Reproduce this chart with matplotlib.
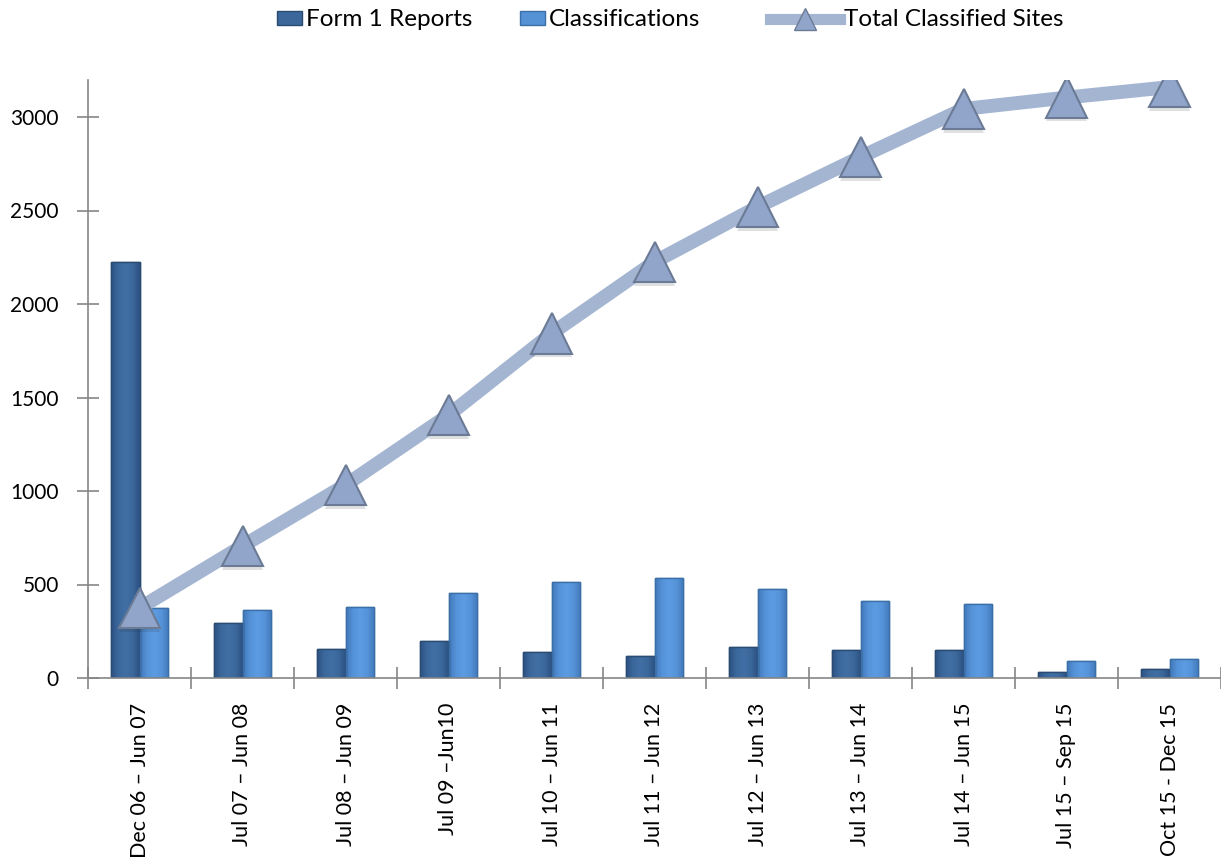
import matplotlib
matplotlib.use("Agg")
import matplotlib.pyplot as plt
import matplotlib.patheffects as pe
from matplotlib.colors import LinearSegmentedColormap
from matplotlib.lines import Line2D
from matplotlib.patches import Patch
import numpy as np

periods = ["Dec 06 – Jun 07", "Jul 07 – Jun 08", "Jul 08 – Jun 09", "Jul 09 –Jun10",
           "Jul 10 – Jun 11", "Jul 11 – Jun 12", "Jul 12 – Jun 13", "Jul 13 – Jun 14",
           "Jul 14 – Jun 15", "Jul 15 – Sep 15", "Oct 15 - Dec 15"]
form1_reports = [2225, 292, 153, 196, 139, 116, 167, 148, 148, 32, 48]
classifications = [374, 364, 378, 456, 513, 533, 476, 410, 396, 91, 102]
total_classified = [374, 706, 1032, 1406, 1842, 2225, 2519, 2786, 3043, 3104, 3160]

plt.rcParams["font.family"] = ["Lato", "DejaVu Sans"]

W, H = 1221, 864
fig = plt.figure(figsize=(W / 100, H / 100), dpi=100)
ax = fig.add_axes([88 / W, 1 - 678 / H, 1 - 88 / W, (678 - 79.6) / H])

x = np.arange(len(periods))
w = 0.28
FORM1_C, FORM1_E = "#3C679A", "#2A4B72"
CLASS_C, CLASS_E = "#5591D5", "#3B6FA8"


def shade_bars(bars, edge, mid, light):
    """Fill each bar with a soft horizontal gradient (darker at the sides)."""
    cmap = LinearSegmentedColormap.from_list("b", [edge, mid, light, mid, edge])
    grad = np.linspace(0, 1, 64)[np.newaxis, :]
    for b in bars:
        x0, y0 = b.get_xy()
        im = ax.imshow(grad, cmap=cmap, extent=[x0, x0 + b.get_width(), y0, y0 + b.get_height()],
                       aspect="auto", interpolation="bicubic", zorder=2.05)
        im.set_clip_path(b)


b1 = ax.bar(x - w / 2, form1_reports, width=w, color=FORM1_C, edgecolor=FORM1_E,
            linewidth=1.0, zorder=2)
b2 = ax.bar(x + w / 2, classifications, width=w, color=CLASS_C, edgecolor=CLASS_E,
            linewidth=1.0, zorder=2)
shade_bars(b1, "#2D5283", "#3C689C", "#416FA5")
shade_bars(b2, "#4279BA", "#5693D9", "#5C9BE2")
for b in list(b1) + list(b2):
    ax.add_patch(plt.Rectangle(b.get_xy(), b.get_width(), b.get_height(), fill=False,
                               edgecolor=b.get_edgecolor(), linewidth=1.0, zorder=2.1))

ax.plot(x, total_classified, color="#A4B5D2", linewidth=10, solid_capstyle="butt", zorder=3)
ax.plot(x, total_classified, linestyle="none", marker="^", markersize=29,
        markerfacecolor="#91A5CA", markeredgecolor="#6B7B96", markeredgewidth=1.5, zorder=4,
        path_effects=[pe.SimplePatchShadow(offset=(0, -2.5), alpha=0.15), pe.Normal()])

ax.set_xlim(-0.5, len(periods) - 0.5)
ax.set_ylim(0, 3200)
ax.set_yticks([0, 500, 1000, 1500, 2000, 2500, 3000])

ax.set_xticks(x)
ax.set_xticklabels(periods, rotation=90, fontsize=15.5, va="top")
ax.set_xticks(np.arange(-0.5, len(periods)), minor=True)
ax.tick_params(axis="x", which="major", length=0, pad=18)
ax.tick_params(axis="x", which="minor", length=16, direction="inout", color="#868686", width=1.2)
ax.tick_params(axis="y", length=16, direction="inout", color="#868686", width=1.2,
               labelsize=15, pad=13)

for side in ["top", "right"]:
    ax.spines[side].set_visible(False)
for side in ["left", "bottom"]:
    ax.spines[side].set_color("#868686")
    ax.spines[side].set_linewidth(1.2)

# legend entries laid out in equal-width slots along the top
FS = 17.5
fs_px = FS * 100 / 72
entries = [
    (277, Patch(facecolor=FORM1_C, edgecolor=FORM1_E, label="Form 1 Reports"), 25),
    (520, Patch(facecolor=CLASS_C, edgecolor=CLASS_E, label="Classifications"), 25),
    (770, Line2D([0], [0], color="#A4B5D2", linewidth=8, marker="^", markersize=16,
                 markerfacecolor="#91A5CA", markeredgecolor="#6B7B96",
                 label="Total Classified Sites"), 70),
]
for xpos, handle, hlen in entries:
    fig.legend(handles=[handle], loc="center left", bbox_to_anchor=(xpos / W, 1 - 20 / H),
               frameon=False, fontsize=FS, handlelength=hlen / fs_px, handleheight=0.5,
               handletextpad=4 / fs_px, borderpad=0, borderaxespad=0)

fig.savefig("out.png", dpi=100)
